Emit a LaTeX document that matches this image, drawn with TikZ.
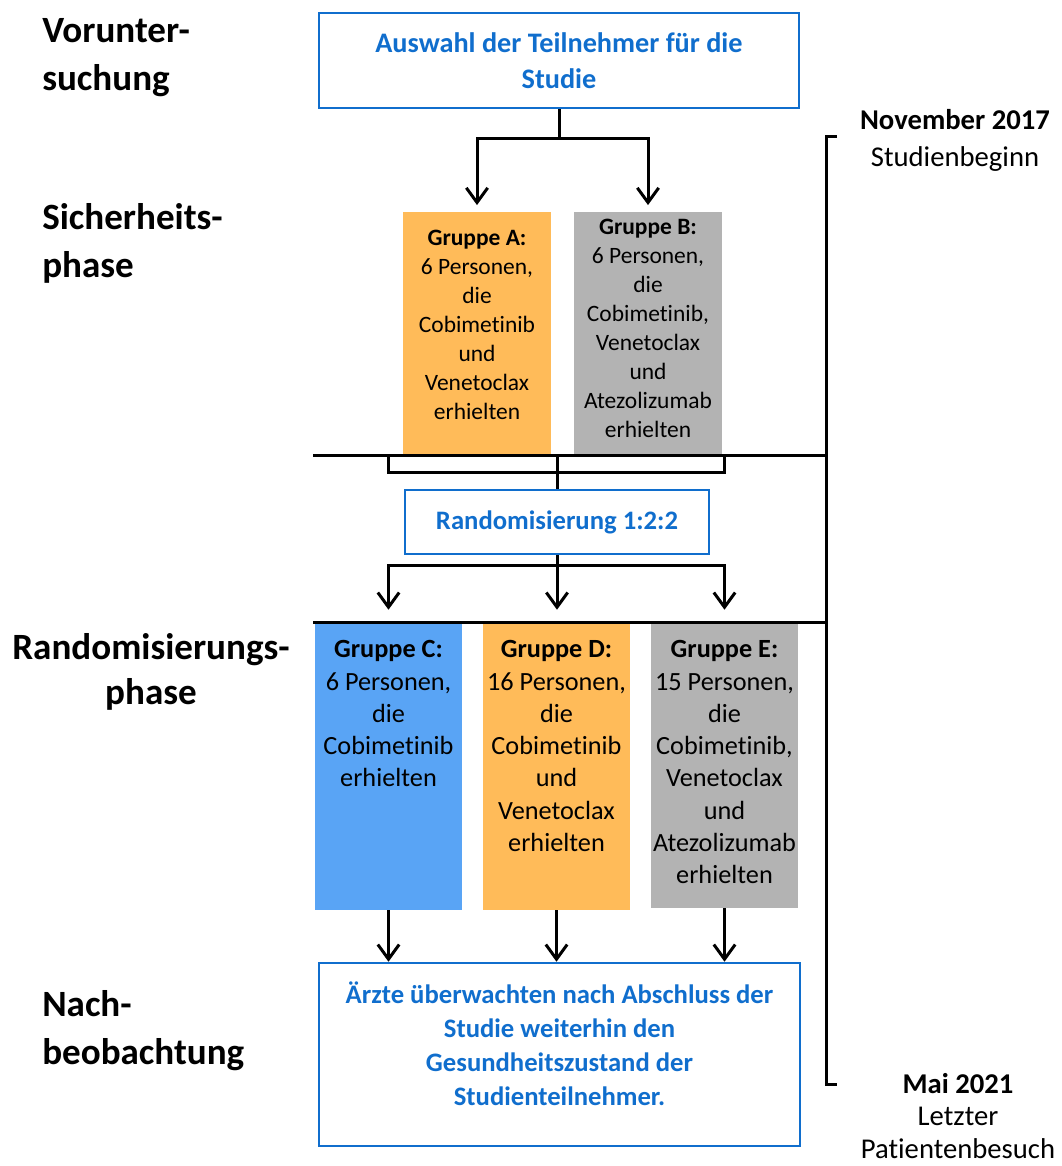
\documentclass[tikz,border=0pt]{standalone}
\usepackage{fontspec}
\setmainfont{Carlito}[Ligatures=NoCommon]
\usepackage{xcolor}
\usetikzlibrary{arrows.meta,positioning}

\definecolor{studyblue}{RGB}{16,110,205}
\definecolor{grporange}{RGB}{255,187,89}
\definecolor{grpgray}{RGB}{179,179,179}
\definecolor{grpblue}{RGB}{89,164,245}

\begin{document}
\begin{tikzpicture}[
  x=0.75pt,y=-0.75pt,
  phase/.style={font=\fontsize{27.8}{36}\selectfont\bfseries, align=left, inner sep=0pt},
  bluebox/.style={draw=studyblue, line width=1.9pt, text=studyblue, align=center, inner sep=0pt, font=\fontsize{20}{26}\selectfont\bfseries},
  bluetext/.style={text=studyblue, align=center, inner sep=0pt, font=\fontsize{20}{25.5}\selectfont\bfseries},
  grp/.style={inner sep=0pt, minimum width=110.5pt},
  grptextsm/.style={inner sep=0pt, align=center, font=\fontsize{17.6}{21.75}\selectfont},
  grptext/.style={inner sep=0pt, align=center, font=\fontsize{19.7}{24.2}\selectfont},
  datelbl/.style={inner sep=0pt, align=center, anchor=north},
  line/.style={line width=2.25pt},
  arrow/.style={line width=2.25pt, -{Straight Barb[length=11pt,width=16pt]}}
]
\useasboundingbox (0,0) rectangle (1062,1166);

\node[phase, anchor=north west] (pre) at (42,18) {Vorunter-\\suchung};
\node[phase, anchor=north west] (safety) at (42,203) {Sicherheits-\\phase};
\node[phase, anchor=north, align=center, font=\fontsize{27.8}{34}\selectfont\bfseries] (randph) at (151,633) {Randomisierungs-\\phase};
\node[phase, anchor=north west] (post) at (42,990) {Nach-\\beobachtung};

\node[bluebox, minimum width=360pt, minimum height=71.25pt, font=\fontsize{21.2}{27}\selectfont\bfseries] (select) at (559,60.5) {Auswahl der Teilnehmer für die\\Studie};

\node[grp, fill=grporange, minimum height=182.25pt] (grpA) at (477,333.5) {};
\node[grp, fill=grpgray, minimum height=182.25pt] (grpB) at (648,333.5) {};
\node[grptextsm, below=13.5pt of grpA.north] (txtA) {\textbf{Gruppe A:}\\6 Personen,\\die\\Cobimetinib\\und\\Venetoclax\\erhielten};
\node[grptextsm, below=5.25pt of grpB.north] (txtB) {\textbf{Gruppe B:}\\6 Personen,\\die\\Cobimetinib,\\Venetoclax\\und\\Atezolizumab\\erhielten};

\node[bluebox, minimum width=228pt, minimum height=48pt] (rand) at (557,522) {Randomisierung 1:2:2};

\node[grp, fill=grpblue, minimum height=216pt] (grpC) at (388.5,766) {};
\node[grp, fill=grporange, minimum height=216pt] (grpD) at (556.5,766) {};
\node[grp, fill=grpgray, minimum height=214.5pt] (grpE) at (724.5,765) {};
\node[grptext, below=14pt of grpC.north] (txtC) {\textbf{Gruppe C:}\\6 Personen,\\die\\Cobimetinib\\erhielten};
\node[grptext, below=14pt of grpD.north] (txtD) {\textbf{Gruppe D:}\\16 Personen,\\die\\Cobimetinib\\und\\Venetoclax\\erhielten};
\node[grptext, below=14pt of grpE.north] (txtE) {\textbf{Gruppe E:}\\15 Personen,\\die\\Cobimetinib,\\Venetoclax\\und\\Atezolizumab\\erhielten};

\node[bluebox, minimum width=360.75pt, minimum height=137.25pt] (follow) at (559.5,1054.5) {};
\node[bluetext] (followtxt) at (559.5,1044) {Ärzte überwachten nach Abschluss der\\Studie weiterhin den\\Gesundheitszustand der\\Studienteilnehmer.};

\coordinate (tlTop) at (826,137);
\coordinate (tlBot) at (826,1084);
\coordinate (sepA) at (313,455);
\coordinate (sepB) at (313,622);

\draw[arrow, shorten >=5pt] (select.south) -- ++(0,29) coordinate (splitA) -| (grpA.north);
\draw[arrow, shorten >=5pt] (splitA) -| (grpB.north);

\draw[line] (sepA) -- (sepA -| tlTop);
\draw[line] (sepB) -- (sepB -| tlTop);
\draw[line] (rand.north) -- (rand.north |- sepA);
\draw[line] (sepA -| grpC.north) -- ++(0,17) -| (sepA -| grpE.north);

\draw[arrow, shorten >=9pt] (rand.south) -- ++(0,10) coordinate (splitB) -| (grpC.north);
\draw[arrow, shorten >=9pt] (splitB) -| (grpE.north);
\draw[arrow, shorten >=9pt] (rand.south) -- (rand.south |- grpD.north);

\foreach \g in {grpC,grpD,grpE}
  \draw[arrow] (\g.south) -- (\g.south |- follow.north);

\draw[line] ([xshift=8.25pt]tlTop) -- (tlTop) -- (tlBot) -- ([xshift=8.25pt]tlBot);

\node[datelbl, font=\fontsize{21.5}{27.75}\selectfont] (start) at (955,109) {\textbf{November 2017}\\Studienbeginn};
\node[datelbl, font=\fontsize{21.5}{24.3}\selectfont] (finish) at (958,1073) {\textbf{Mai 2021}\\Letzter\\Patientenbesuch};
\end{tikzpicture}
\end{document}
